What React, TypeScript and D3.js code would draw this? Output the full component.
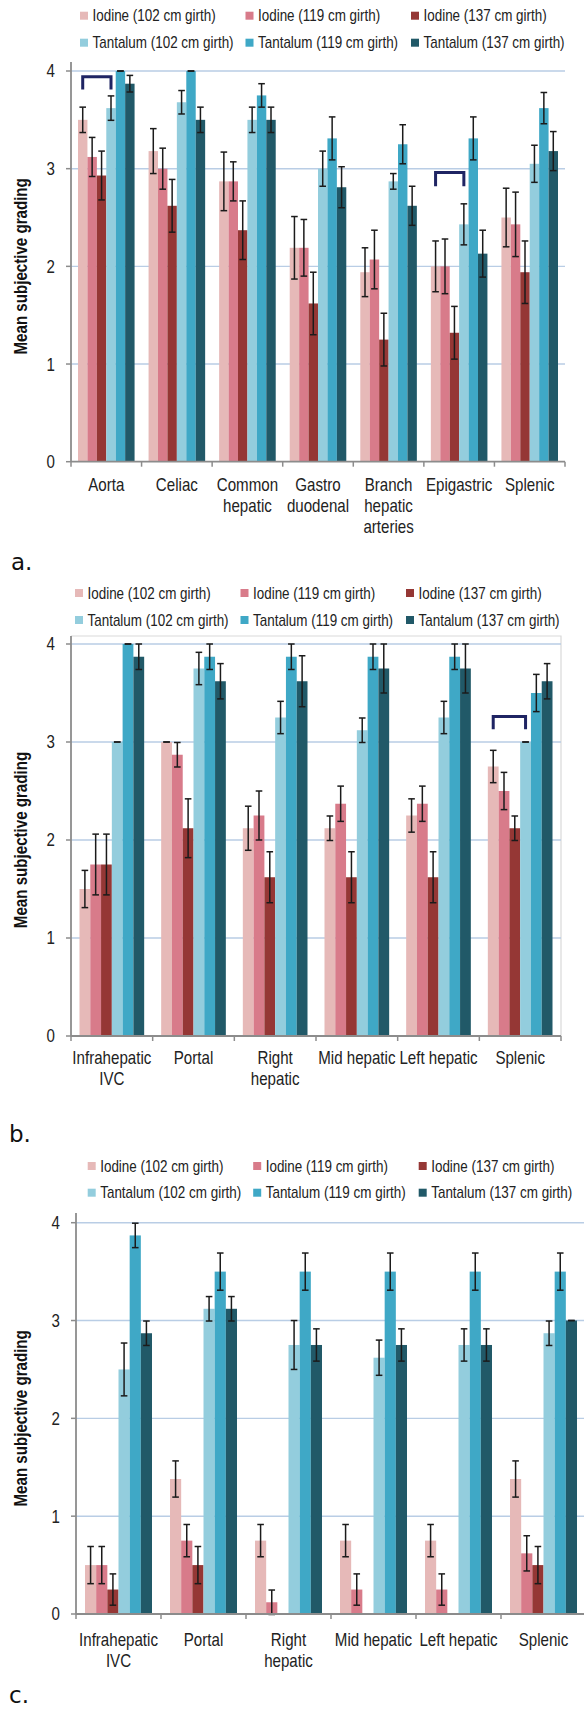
import React from 'react';
import * as d3 from 'd3';

// ---------- data ----------
const seriesNames = [
  'Iodine (102 cm girth)',
  'Iodine (119 cm girth)',
  'Iodine (137 cm girth)',
  'Tantalum (102 cm girth)',
  'Tantalum (119 cm girth)',
  'Tantalum (137 cm girth)',
];
const seriesColors = ['#e6b9b8', '#d87b8a', '#953735', '#93cddd', '#3fa8c6', '#215968'];

const yTicks = [0, 1, 2, 3, 4];

// panel a
const labelsA = [
  ['Aorta'],
  ['Celiac'],
  ['Common', 'hepatic'],
  ['Gastro', 'duodenal'],
  ['Branch', 'hepatic', 'arteries'],
  ['Epigastric'],
  ['Splenic'],
];
const valuesA = [
  [3.5, 3.18, 2.87, 2.19, 1.94, 2.0, 2.5],
  [3.12, 3.0, 2.87, 2.19, 2.07, 2.0, 2.43],
  [2.93, 2.62, 2.37, 1.62, 1.25, 1.32, 1.94],
  [3.62, 3.68, 3.5, 3.0, 2.87, 2.43, 3.05],
  [4.0, 4.0, 3.75, 3.31, 3.25, 3.31, 3.62],
  [3.87, 3.5, 3.5, 2.81, 2.62, 2.13, 3.18],
];
const errorsA = [
  [0.13, 0.23, 0.3, 0.32, 0.25, 0.26, 0.3],
  [0.2, 0.21, 0.2, 0.29, 0.3, 0.28, 0.33],
  [0.25, 0.27, 0.3, 0.32, 0.27, 0.27, 0.32],
  [0.125, 0.12, 0.13, 0.18, 0.08, 0.21, 0.19],
  [0, 0, 0.12, 0.22, 0.2, 0.22, 0.16],
  [0.085, 0.13, 0.13, 0.21, 0.2, 0.24, 0.2],
];
const bracketsA = [
  { cat: 0, top: 3.94, bottom: 3.81 },
  { cat: 5, top: 2.96, bottom: 2.82 },
];

// panel b
const labelsB = [
  ['Infrahepatic', 'IVC'],
  ['Portal'],
  ['Right', 'hepatic'],
  ['Mid hepatic'],
  ['Left hepatic'],
  ['Splenic'],
];
const valuesB = [
  [1.5, 3.0, 2.12, 2.12, 2.25, 2.75],
  [1.75, 2.87, 2.25, 2.37, 2.37, 2.5],
  [1.75, 2.12, 1.62, 1.62, 1.62, 2.12],
  [3.0, 3.75, 3.25, 3.12, 3.25, 3.0],
  [4.0, 3.87, 3.87, 3.87, 3.87, 3.5],
  [3.87, 3.62, 3.62, 3.75, 3.75, 3.62],
];
const errorsB = [
  [0.19, 0, 0.225, 0.125, 0.17, 0.165],
  [0.31, 0.125, 0.25, 0.18, 0.18, 0.19],
  [0.31, 0.3, 0.26, 0.26, 0.26, 0.125],
  [0, 0.165, 0.165, 0.125, 0.165, 0],
  [0, 0.13, 0.13, 0.13, 0.13, 0.19],
  [0.13, 0.18, 0.26, 0.25, 0.25, 0.18],
];
const bracketsB = [{ cat: 5, top: 3.26, bottom: 3.13 }];

// panel c
const labelsC = labelsB;
const valuesC = [
  [0.5, 1.38, 0.75, 0.75, 0.75, 1.38],
  [0.5, 0.75, 0.12, 0.25, 0.25, 0.62],
  [0.25, 0.5, 0, 0, 0, 0.5],
  [2.5, 3.12, 2.75, 2.62, 2.75, 2.87],
  [3.87, 3.5, 3.5, 3.5, 3.5, 3.5],
  [2.87, 3.12, 2.75, 2.75, 2.75, 3.0],
];
const errorsC = [
  [0.19, 0.185, 0.165, 0.165, 0.165, 0.185],
  [0.19, 0.165, 0.125, 0.16, 0.16, 0.18],
  [0.16, 0.19, 0, 0, 0, 0.19],
  [0.27, 0.125, 0.25, 0.18, 0.165, 0.125],
  [0.125, 0.19, 0.19, 0.19, 0.19, 0.19],
  [0.125, 0.125, 0.165, 0.165, 0.165, 0],
];
const bracketsC: { cat: number; top: number; bottom: number }[] = [];

// ---------- layout / style ----------
const FONT = "'Liberation Sans', Arial, Helvetica, sans-serif";
const SQUEEZE = 0.84; // condensed look of the original typeface
const GRID = '#b9cde5';
const AXIS = '#8c8c8c';

type Layout = {
  x0: number; x1: number; gridEnd: number; y4: number; y0: number; axisTop: number;
  pad: number; legendX: number; legendY: number[]; labelBase: number; frame: boolean;
  tag: string; tagX: number; tagY: number;
};

const layoutA: Layout = {
  x0: 71, x1: 565, gridEnd: 565, y4: 71, y0: 461.7, axisTop: 62, pad: 7,
  legendX: 80, legendY: [15.7, 42.7], labelBase: 491, frame: false,
  tag: 'a.', tagX: 11, tagY: 570,
};
const layoutB: Layout = {
  x0: 71, x1: 561, gridEnd: 561, y4: 644, y0: 1036, axisTop: 636, pad: 8.5,
  legendX: 75, legendY: [593, 620], labelBase: 1064, frame: true,
  tag: 'b.', tagX: 9, tagY: 1142,
};
const layoutC: Layout = {
  x0: 76, x1: 586, gridEnd: 590, y4: 1222.7, y0: 1614, axisTop: 1213, pad: 9,
  legendX: 87.7, legendY: [1166, 1192.7], labelBase: 1645.5, frame: false,
  tag: 'c.', tagX: 9, tagY: 1703,
};

function NText({ x, y, size, anchor = 'start', weight = 'normal', rotate = 0, dy, fill = '#222', children }: {
  x: number; y: number; size: number; anchor?: string; weight?: string; rotate?: number; dy?: string;
  fill?: string; children: React.ReactNode;
}) {
  return (
    <g transform={`translate(${x},${y}) rotate(${rotate}) scale(${SQUEEZE},1)`}>
      <text x={0} y={0} dy={dy} textAnchor={anchor} fontFamily={FONT} fontSize={size} fontWeight={weight} fill={fill}>
        {children}
      </text>
    </g>
  );
}

function Panel({ labels, values, errors, brackets, L }: {
  labels: string[][]; values: number[][]; errors: number[][];
  brackets: { cat: number; top: number; bottom: number }[]; L: Layout;
}) {
  const nCat = labels.length;
  const x = d3.scaleBand<number>().domain(d3.range(nCat)).range([L.x0, L.x1]).padding(0);
  const inner = d3.scaleBand<number>().domain(d3.range(seriesNames.length))
    .range([L.pad, x.bandwidth() - L.pad]).padding(0);
  const y = d3.scaleLinear().domain([0, 4]).range([L.y0, L.y4]);
  const bw = inner.bandwidth();
  const cap = 3.3;

  return (
    <g>
      <text x={L.tagX} y={L.tagY} fontFamily="'DejaVu Sans', sans-serif" fontSize={23} fill="#111">{L.tag}</text>
      {/* legend */}
      {seriesNames.map((name, i) => {
        const row = Math.floor(i / 3);
        const col = i % 3;
        const sx = L.legendX + col * 165.5;
        const sy = L.legendY[row];
        return (
          <g key={name}>
            <rect x={sx} y={sy - 4} width={8} height={8} fill={seriesColors[i]} />
            <NText x={sx + 12.5} y={sy} dy="0.35em" size={16}>{name}</NText>
          </g>
        );
      })}
      {/* frame */}
      {L.frame && (
        <path d={`M${L.x0},${L.axisTop}H${L.x1}V${L.y0}`} fill="none" stroke="#d9d9d9" strokeWidth={1.2} />
      )}
      {/* gridlines */}
      {yTicks.filter((t) => t > 0).map((t) => (
        <line key={t} x1={L.x0} x2={L.gridEnd} y1={y(t)} y2={y(t)} stroke={GRID} strokeWidth={1.4} />
      ))}
      {/* bars */}
      {values.map((ser, s) => ser.map((v, c) => {
        const bx = (x(c) as number) + (inner(s) as number);
        return <rect key={`b${s}-${c}`} x={bx} y={y(v)} width={bw} height={y(0) - y(v)} fill={seriesColors[s]} />;
      }))}
      {/* error bars */}
      {values.map((ser, s) => ser.map((v, c) => {
        const e = errors[s][c];
        if (v === 0 && e === 0) return null;
        const cx = (x(c) as number) + (inner(s) as number) + bw / 2;
        const yt = y(Math.min(4, v + e));
        const yb = y(v - e);
        return (
          <g key={`e${s}-${c}`} stroke="#1b1b1b" strokeWidth={1.5}>
            <line x1={cx} x2={cx} y1={yt} y2={yb} />
            <line x1={cx - cap} x2={cx + cap} y1={yt} y2={yt} />
            <line x1={cx - cap} x2={cx + cap} y1={yb} y2={yb} />
          </g>
        );
      }))}
      {/* brackets */}
      {brackets.map((b, i) => {
        const xa = (x(b.cat) as number) + (inner(0) as number) + bw / 2;
        const xb = (x(b.cat) as number) + (inner(3) as number) + bw / 2;
        return (
          <path key={`br${i}`} d={`M${xa},${y(b.bottom)}V${y(b.top)}H${xb}V${y(b.bottom)}`}
            fill="none" stroke="#1f2463" strokeWidth={3} />
        );
      })}
      {/* y axis */}
      <line x1={L.x0} x2={L.x0} y1={L.axisTop} y2={L.y0} stroke={AXIS} strokeWidth={1.8} />
      {yTicks.map((t) => (
        <g key={`t${t}`}>
          <line x1={L.x0 - 5} x2={L.x0} y1={y(t)} y2={y(t)} stroke={AXIS} strokeWidth={1.5} />
          <NText x={L.x0 - 16} y={y(t)} dy="0.36em" anchor="end" size={18}>{t}</NText>
        </g>
      ))}
      <NText x={26.5} y={(L.y0 + L.y4) / 2} rotate={-90} anchor="middle" weight="bold" size={18} fill="#111">
        Mean subjective grading
      </NText>
      {/* x axis */}
      <line x1={L.x0} x2={L.x1} y1={L.y0} y2={L.y0} stroke={AXIS} strokeWidth={1.8} />
      {d3.range(nCat + 1).map((i) => {
        const tx = i < nCat ? (x(i) as number) : L.x1;
        return <line key={`xt${i}`} x1={tx} x2={tx} y1={L.y0} y2={L.y0 + 5} stroke={AXIS} strokeWidth={1.5} />;
      })}
      {labels.map((lines, c) => (
        <g key={`l${c}`}>
          {lines.map((ln, k) => (
            <NText key={k} x={(x(c) as number) + x.bandwidth() / 2} y={L.labelBase + k * 21} anchor="middle" size={18}>
              {ln}
            </NText>
          ))}
        </g>
      ))}
    </g>
  );
}

export default function App() {
  return (
    <svg width={584} height={1711} style={{ position: 'absolute', left: 0, top: 0, background: '#fff' }}>
      <rect width={584} height={1711} fill="#fff" />
      <Panel labels={labelsA} values={valuesA} errors={errorsA} brackets={bracketsA} L={layoutA} />
      <Panel labels={labelsB} values={valuesB} errors={errorsB} brackets={bracketsB} L={layoutB} />
      <Panel labels={labelsC} values={valuesC} errors={errorsC} brackets={bracketsC} L={layoutC} />
    </svg>
  );
}
